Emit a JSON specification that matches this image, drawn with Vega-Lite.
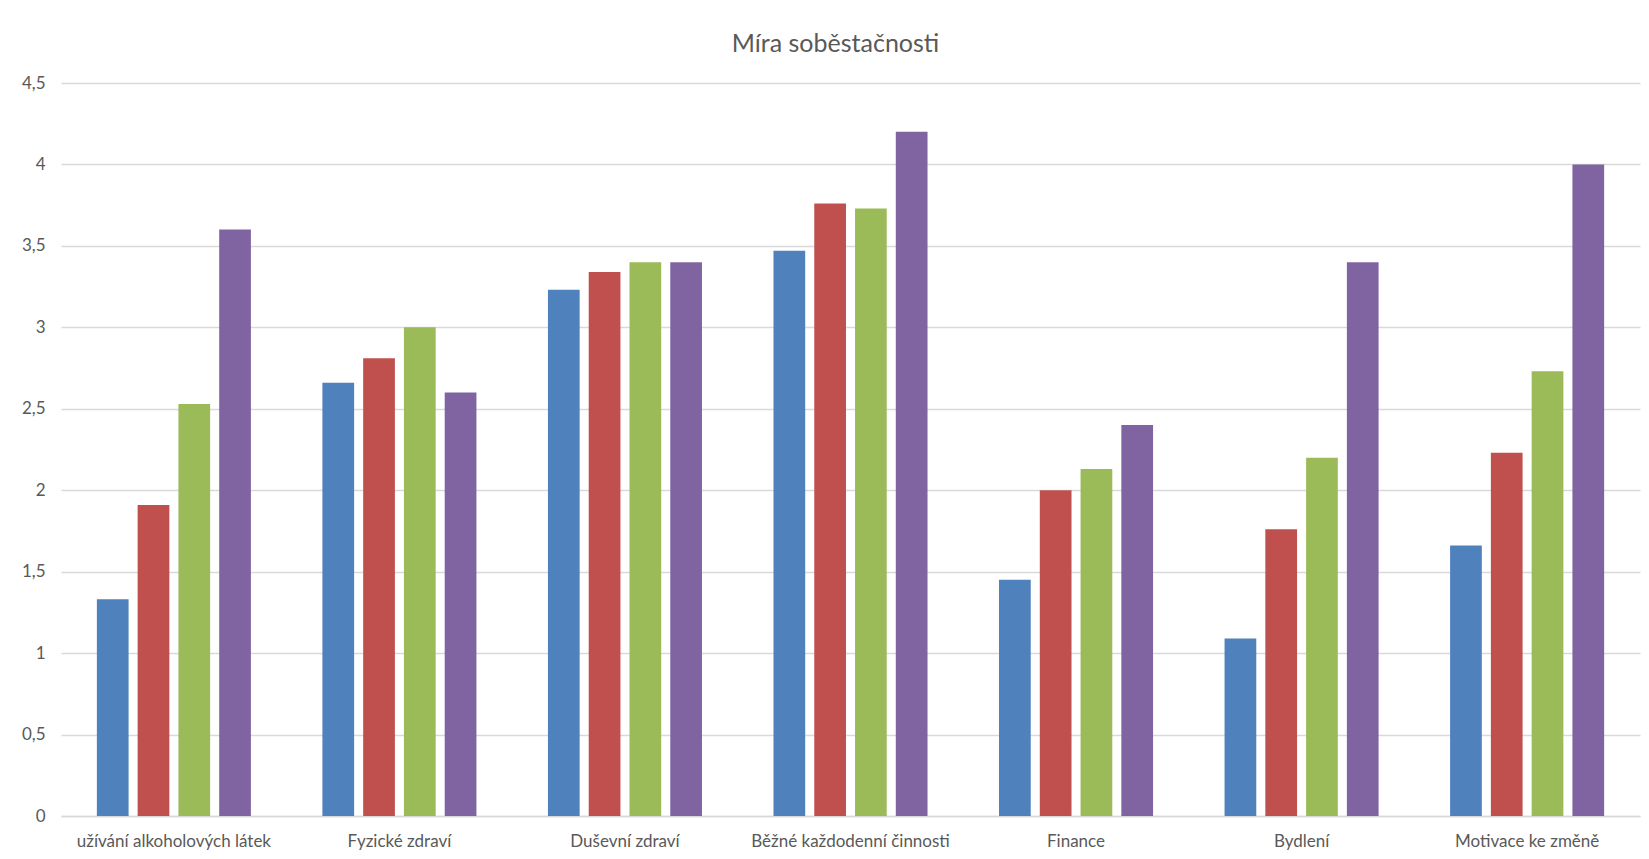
{
  "$schema": "https://vega.github.io/schema/vega-lite/v6.json",
  "autosize": "none",
  "width": 1579,
  "height": 733,
  "padding": {"left": 61, "top": 83, "right": 9, "bottom": 43},
  "background": "white",
  "title": {
    "text": "Míra soběstačnosti",
    "font": "Lato",
    "fontSize": 25,
    "fontWeight": "normal",
    "color": "#595959",
    "baseline": "bottom",
    "offset": 16,
    "dy": 24,
    "dx": -15
  },
  "data": {
    "values": [
      {"kategorie": "užívání alkoholových látek", "rada": "Řada 1", "hodnota": 1.33},
      {"kategorie": "užívání alkoholových látek", "rada": "Řada 2", "hodnota": 1.91},
      {"kategorie": "užívání alkoholových látek", "rada": "Řada 3", "hodnota": 2.53},
      {"kategorie": "užívání alkoholových látek", "rada": "Řada 4", "hodnota": 3.6},
      {"kategorie": "Fyzické zdraví", "rada": "Řada 1", "hodnota": 2.66},
      {"kategorie": "Fyzické zdraví", "rada": "Řada 2", "hodnota": 2.81},
      {"kategorie": "Fyzické zdraví", "rada": "Řada 3", "hodnota": 3.0},
      {"kategorie": "Fyzické zdraví", "rada": "Řada 4", "hodnota": 2.6},
      {"kategorie": "Duševní zdraví", "rada": "Řada 1", "hodnota": 3.23},
      {"kategorie": "Duševní zdraví", "rada": "Řada 2", "hodnota": 3.34},
      {"kategorie": "Duševní zdraví", "rada": "Řada 3", "hodnota": 3.4},
      {"kategorie": "Duševní zdraví", "rada": "Řada 4", "hodnota": 3.4},
      {"kategorie": "Běžné každodenní činnosti", "rada": "Řada 1", "hodnota": 3.47},
      {"kategorie": "Běžné každodenní činnosti", "rada": "Řada 2", "hodnota": 3.76},
      {"kategorie": "Běžné každodenní činnosti", "rada": "Řada 3", "hodnota": 3.73},
      {"kategorie": "Běžné každodenní činnosti", "rada": "Řada 4", "hodnota": 4.2},
      {"kategorie": "Finance", "rada": "Řada 1", "hodnota": 1.45},
      {"kategorie": "Finance", "rada": "Řada 2", "hodnota": 2.0},
      {"kategorie": "Finance", "rada": "Řada 3", "hodnota": 2.13},
      {"kategorie": "Finance", "rada": "Řada 4", "hodnota": 2.4},
      {"kategorie": "Bydlení", "rada": "Řada 1", "hodnota": 1.09},
      {"kategorie": "Bydlení", "rada": "Řada 2", "hodnota": 1.76},
      {"kategorie": "Bydlení", "rada": "Řada 3", "hodnota": 2.2},
      {"kategorie": "Bydlení", "rada": "Řada 4", "hodnota": 3.4},
      {"kategorie": "Motivace ke změně", "rada": "Řada 1", "hodnota": 1.66},
      {"kategorie": "Motivace ke změně", "rada": "Řada 2", "hodnota": 2.23},
      {"kategorie": "Motivace ke změně", "rada": "Řada 3", "hodnota": 2.73},
      {"kategorie": "Motivace ke změně", "rada": "Řada 4", "hodnota": 4.0}
    ]
  },
  "mark": {"type": "bar"},
  "encoding": {
    "x": {
      "field": "kategorie",
      "type": "nominal",
      "sort": null,
      "scale": {"paddingInner": 0.317, "paddingOuter": 0.159},
      "axis": {
        "title": null,
        "labelAngle": 0,
        "labelFont": "Lato",
        "labelFontSize": 17,
        "labelColor": "#595959",
        "labelPadding": 17,
        "labelLimit": 0,
        "ticks": false,
        "domainColor": "#D9D9D9",
        "domainWidth": 1.5,
        "zindex": 0
      }
    },
    "xOffset": {
      "field": "rada",
      "type": "nominal",
      "scale": {"paddingInner": 0.222, "paddingOuter": 0}
    },
    "y": {
      "field": "hodnota",
      "type": "quantitative",
      "scale": {"domain": [0, 4.5], "nice": false},
      "axis": {
        "title": null,
        "values": [0, 0.5, 1, 1.5, 2, 2.5, 3, 3.5, 4, 4.5],
        "labelExpr": "replace(format(datum.value, ''), '.', ',')",
        "labelFont": "Lato",
        "labelFontSize": 17,
        "labelColor": "#595959",
        "labelPadding": 16,
        "ticks": false,
        "domain": false,
        "gridColor": "#D9D9D9",
        "gridWidth": 1.3
      }
    },
    "color": {
      "field": "rada",
      "type": "nominal",
      "scale": {
        "domain": ["Řada 1", "Řada 2", "Řada 3", "Řada 4"],
        "range": ["#4F81BD", "#C0504D", "#9BBB59", "#8064A2"]
      },
      "legend": null
    }
  },
  "config": {
    "view": {"stroke": null}
  }
}
